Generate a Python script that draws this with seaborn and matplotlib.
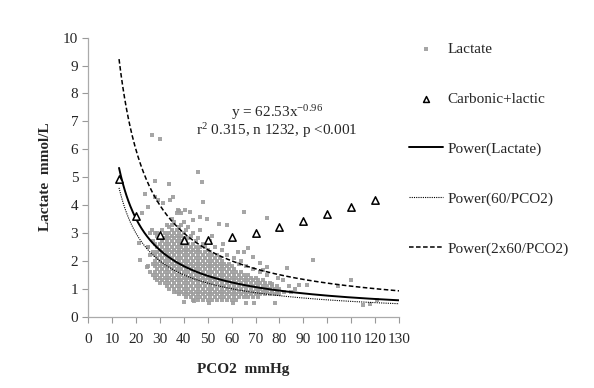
import numpy as np
import pandas as pd
import seaborn as sns
import matplotlib.pyplot as plt

# scattered single points (PCO2, lactate)
outlier_x = [26.7, 30.1, 45.8, 47.8, 27.9, 34.0, 24.0, 48.2, 65.0, 74.8, 49.9, 46.9, 54.9, 58.2,
             93.9, 104.5, 109.9, 115.0, 117.8, 120.6, 84.1, 88.0, 91.4, 83.1, 78.0, 69.4, 66.0,
             60.7, 40.0, 79.5, 76.9, 67.0, 69.1, 71.9, 73.3, 74.7, 24.5, 21.7, 21.4, 22.4, 25.2,
             27.9, 29.4, 31.5, 34.3, 35.7, 37.7, 40.5, 42.6, 44.0, 26.6, 28.7, 25.2, 52.0, 56.5,
             62.5, 85.0, 81.5, 64.0, 86.5, 44.5, 50.5]
outlier_y = [6.51, 6.36, 5.17, 4.84, 4.86, 4.77, 4.38, 4.11, 3.74, 3.52, 3.49, 3.56, 3.32, 3.27,
             2.03, 1.10, 1.31, 0.42, 0.44, 0.60, 1.10, 1.13, 1.13, 1.73, 0.50, 0.48, 0.50,
             0.50, 0.53, 1.37, 1.17, 2.45, 2.15, 1.91, 1.67, 1.79, 1.79, 2.03, 2.63, 3.70, 3.94,
             4.30, 4.18, 4.06, 4.18, 4.30, 3.82, 3.82, 3.76, 3.46, 3.10, 2.99, 2.50, 2.90, 2.60,
             2.30, 0.90, 1.30, 2.00, 1.00, 0.55, 0.50]

# dense cloud, column by column (PCO2 value -> lactate values)
cloud_cols = list(range(25, 81)) + [82]
cloud_vals = [
    [1.8, 2.5],
    [1.6, 2.2, 3.0],
    [1.5, 1.9, 2.3, 2.7],
    [1.4, 1.6, 1.8, 2.0, 2.2, 2.6, 3.0],
    [1.3, 1.5, 1.7, 1.9, 2.1, 2.3, 2.5, 2.9],
    [1.2, 1.4, 1.6, 1.8, 2.0, 2.2, 2.4, 2.6, 2.8],
    [1.3, 1.5, 1.7, 1.9, 2.1, 2.3, 2.5, 2.7, 3.1],
    [1.2, 1.4, 1.6, 1.8, 2.0, 2.2, 2.4, 2.6, 2.8, 3.0],
    [1.1, 1.3, 1.5, 1.7, 1.9, 2.1, 2.3, 2.5, 2.7, 2.9, 3.3],
    [1.0, 1.2, 1.4, 1.6, 1.8, 2.0, 2.2, 2.4, 2.6, 2.8, 3.0, 3.2],
    [1.1, 1.3, 1.5, 1.7, 1.9, 2.1, 2.3, 2.5, 2.7, 2.9, 3.1, 3.3, 3.5],
    [0.9, 1.0, 1.2, 1.4, 1.6, 1.8, 2.0, 2.2, 2.4, 2.6, 2.8, 3.0, 3.4],
    [0.9, 1.1, 1.3, 1.5, 1.7, 1.9, 2.1, 2.3, 2.5, 2.7, 2.9, 3.1, 3.7],
    [0.8, 1.0, 1.2, 1.4, 1.6, 1.8, 2.0, 2.2, 2.4, 2.6, 2.8, 3.0, 3.2, 3.8],
    [0.9, 1.1, 1.3, 1.5, 1.7, 1.9, 2.1, 2.3, 2.5, 2.7, 2.9, 3.3, 3.7],
    [0.8, 1.0, 1.2, 1.4, 1.6, 1.8, 2.0, 2.2, 2.4, 2.6, 2.8, 3.0, 3.4],
    [0.7, 0.9, 1.1, 1.3, 1.5, 1.7, 1.9, 2.1, 2.3, 2.5, 2.7, 3.1],
    [0.8, 1.0, 1.2, 1.4, 1.6, 1.8, 2.0, 2.2, 2.4, 2.6, 2.8, 3.2],
    [0.7, 0.9, 1.1, 1.3, 1.5, 1.7, 1.9, 2.1, 2.3, 2.5, 2.9],
    [0.6, 0.8, 1.0, 1.2, 1.4, 1.6, 1.8, 2.0, 2.2, 2.4, 2.6, 3.0],
    [0.7, 0.9, 1.1, 1.3, 1.5, 1.7, 1.9, 2.1, 2.3, 2.5, 2.7],
    [0.6, 0.8, 1.0, 1.2, 1.4, 1.6, 1.8, 2.0, 2.2, 2.4, 2.8],
    [0.7, 0.9, 1.1, 1.3, 1.5, 1.7, 1.9, 2.1, 2.3, 2.5, 3.1],
    [0.6, 0.8, 1.0, 1.2, 1.4, 1.6, 1.8, 2.0, 2.2, 2.6],
    [0.7, 0.9, 1.1, 1.3, 1.5, 1.7, 1.9, 2.1, 2.3, 2.5],
    [0.6, 0.8, 1.0, 1.2, 1.4, 1.6, 1.8, 2.0, 2.2, 2.4],
    [0.7, 0.9, 1.1, 1.3, 1.5, 1.7, 1.9, 2.1, 2.3, 2.7],
    [0.6, 0.8, 1.0, 1.2, 1.4, 1.6, 1.8, 2.0, 2.2],
    [0.7, 0.9, 1.1, 1.3, 1.5, 1.7, 1.9, 2.1, 2.5],
    [0.6, 0.8, 1.0, 1.2, 1.4, 1.6, 1.8, 2.0, 2.2],
    [0.7, 0.9, 1.1, 1.3, 1.5, 1.7, 1.9, 2.1],
    [0.6, 0.8, 1.0, 1.2, 1.4, 1.6, 1.8, 2.0, 2.4],
    [0.7, 0.9, 1.1, 1.3, 1.5, 1.7, 1.9],
    [0.6, 0.8, 1.0, 1.2, 1.4, 1.6, 1.8, 2.2],
    [0.7, 0.9, 1.1, 1.3, 1.5, 1.7, 1.9],
    [0.6, 0.8, 1.0, 1.2, 1.4, 1.6, 1.8],
    [0.7, 0.9, 1.1, 1.3, 1.5, 1.7, 2.1],
    [0.6, 0.8, 1.0, 1.2, 1.4, 1.6],
    [0.7, 0.9, 1.1, 1.3, 1.5, 1.9],
    [0.8, 1.0, 1.2, 1.4, 1.6],
    [0.7, 0.9, 1.1, 1.3, 1.5, 2.3],
    [0.8, 1.0, 1.2, 1.4, 1.8],
    [0.7, 0.9, 1.1, 1.3, 1.5],
    [0.8, 1.0, 1.2, 1.4],
    [0.7, 0.9, 1.1, 1.3, 1.7],
    [0.8, 1.0, 1.2, 1.4],
    [0.7, 0.9, 1.1, 1.3],
    [0.8, 1.0, 1.2, 1.6],
    [0.9, 1.1, 1.3],
    [0.8, 1.0, 1.2],
    [0.9, 1.1, 1.5],
    [0.8, 1.0, 1.2],
    [0.9, 1.1],
    [0.8, 1.0],
    [0.9, 1.1],
    [0.8, 1.0],
    [0.9],
]

# carbonic + lactic triangles
carb_x = [13, 20, 30, 40, 50, 60, 70, 80, 90, 100, 110, 120]
carb_y = [4.92, 3.61, 2.92, 2.74, 2.75, 2.86, 3.01, 3.21, 3.43, 3.67, 3.92, 4.17]

# trend lines
fit_a, fit_b = 62.53, -0.96
ref_k = 60
x_from, x_to = 13, 130

x_ticks = list(range(0, 131, 10))
y_ticks = list(range(0, 11))

lact_x = list(outlier_x)
lact_y = list(outlier_y)
for cx, vals in zip(cloud_cols, cloud_vals):
    lact_x += [cx] * len(vals)
    lact_y += vals
df = pd.DataFrame({"PCO2": lact_x, "Lactate": lact_y})
df_carb = pd.DataFrame({"PCO2": carb_x, "Lactate": carb_y})

xs = np.linspace(x_from, x_to, 300)
df_fit = pd.DataFrame({"PCO2": xs,
                       "fit": fit_a * xs ** fit_b,
                       "one": ref_k / xs,
                       "two": 2 * ref_k / xs})

sns.set_style("white")
plt.rcParams["font.family"] = ["Liberation Serif", "DejaVu Serif"]
plt.rcParams["mathtext.fontset"] = "custom"
plt.rcParams["mathtext.rm"] = "Liberation Serif"
plt.rcParams["mathtext.it"] = "Liberation Serif:italic"

fig = plt.figure(figsize=(5.94, 3.88), dpi=100)
ax = fig.add_axes([0.148, 0.184, 0.524, 0.719])

sns.scatterplot(data=df, x="PCO2", y="Lactate", ax=ax, marker="s", s=10,
                color="#9c9c9c", linewidth=0, alpha=0.9, label="Lactate", zorder=2)
sns.scatterplot(data=df_carb, x="PCO2", y="Lactate", ax=ax, marker="^", s=28,
                facecolor="white", edgecolor="black", linewidth=1.1,
                label="Carbonic+lactic", zorder=5)
sns.lineplot(data=df_fit, x="PCO2", y="fit", ax=ax, color="black", linewidth=1.4,
             label="Power(Lactate)", zorder=4)
sns.lineplot(data=df_fit, x="PCO2", y="one", ax=ax, color="black", linewidth=0.8,
             linestyle=(0, (1, 1)), label="Power(60/PCO2)", zorder=4)
sns.lineplot(data=df_fit, x="PCO2", y="two", ax=ax, color="black", linewidth=1.1,
             linestyle=(0, (3, 1.6)), label="Power(2x60/PCO2)", zorder=4)

ax.set_xlim(0, 130)
ax.set_ylim(0, 10)
ax.set_xticks(x_ticks)
ax.set_yticks(y_ticks)
ax.tick_params(axis="both", labelsize=11, length=4, width=0.8, color="#999999",
               direction="out", pad=3, bottom=True, left=True)
ax.tick_params(axis="x", pad=8)
for side in ["top", "right"]:
    ax.spines[side].set_visible(False)
for side in ["left", "bottom"]:
    ax.spines[side].set_color("#aaaaaa")
    ax.spines[side].set_linewidth(0.9)

ax.set_xlabel("PCO2  mmHg", fontsize=11, fontweight="bold")
ax.set_ylabel("Lactate  mmol/L", fontsize=11, fontweight="bold")
ax.xaxis.set_label_coords(0.498, -0.165)
ax.yaxis.set_label_coords(-0.115, 0.5)

ax.text(79, 7.3, r"y = 62.53x$^{\mathrm{-0.96}}$", ha="center", va="center", fontsize=11)
ax.text(79, 6.66, r"r$^{\mathrm{2}}$ 0.315, n 1232, p <0.001", ha="center", va="center",
        fontsize=11)

ax.legend(loc="upper left", bbox_to_anchor=(1.012, 1.005), frameon=False, fontsize=11,
          labelspacing=2.36, handlelength=2.2, handletextpad=0.3, scatterpoints=1,
          markerscale=0.8, borderaxespad=0)

fig.savefig("out.png", dpi=100)
